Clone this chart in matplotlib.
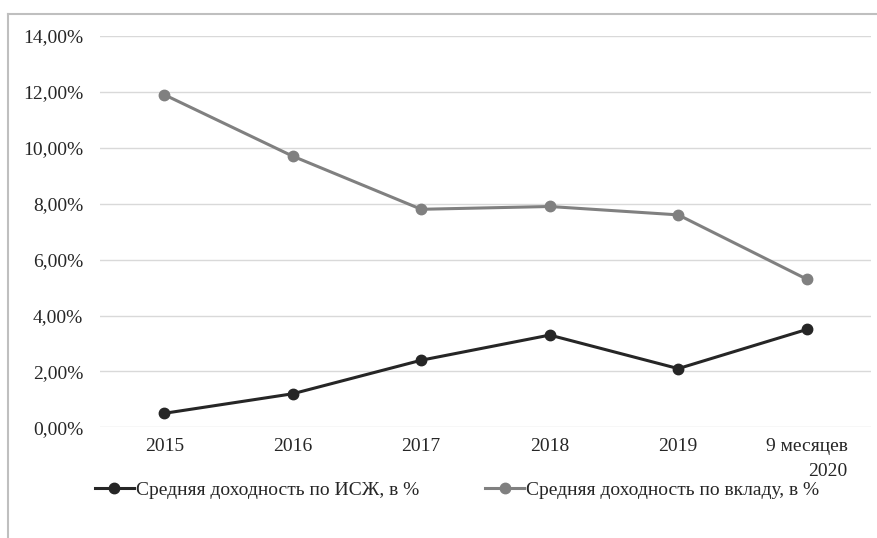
import matplotlib
matplotlib.use('Agg')
from matplotlib import pyplot as plt
from matplotlib.lines import Line2D
from matplotlib.ticker import FuncFormatter, MultipleLocator

plt.rcParams['font.family'] = ['Liberation Serif', 'DejaVu Serif']

categories = ['2015', '2016', '2017', '2018', '2019', '9 месяцев\n2020']
isz_yield = [0.5, 1.2, 2.4, 3.3, 2.1, 3.5]
deposit_yield = [11.9, 9.7, 7.8, 7.9, 7.6, 5.3]
label_isz = 'Средняя доходность по ИСЖ, в %'
label_dep = 'Средняя доходность по вкладу, в %'

fig = plt.figure(figsize=(8.78, 5.38), dpi=100)
ax = fig.add_axes([100 / 878, 1 - 427.3 / 538, 771 / 878, (427.3 - 36) / 538])

x = range(len(categories))
ax.plot(x, isz_yield, color='#262626', lw=2.2, marker='o', ms=7.5, label=label_isz, zorder=3)
ax.plot(x, deposit_yield, color='#808080', lw=2.2, marker='o', ms=7.5, label=label_dep, zorder=3)

ax.set_xlim(-0.5, len(categories) - 0.5)
ax.set_ylim(0, 14)
ax.yaxis.set_major_locator(MultipleLocator(2))
ax.yaxis.set_major_formatter(FuncFormatter(lambda v, p: '{:.2f}%'.format(v).replace('.', ',')))
ax.set_xticks(list(x))
ax.set_xticklabels(categories)
ax.grid(axis='y', color='#d9d9d9', lw=1)
ax.set_axisbelow(True)
for s in ax.spines.values():
    s.set_visible(False)
ax.tick_params(axis='both', length=0, labelsize=14, colors='#262626')
ax.tick_params(axis='y', pad=12)
ax.tick_params(axis='x', pad=8)
for lbl in ax.get_xticklabels():
    lbl.set_verticalalignment('top')
    lbl.set_multialignment('right')
    lbl.set_linespacing(1.55)

fig.legend(loc='center', bbox_to_anchor=(457 / 878, 1 - 490 / 538), ncol=2, frameon=False,
           fontsize=14, handlelength=2.0, handletextpad=0.1, columnspacing=3.4,
           labelcolor='#262626')

# chart border (top and left edges only visible)
fig.add_artist(Line2D([8 / 878, 1], [1 - 14 / 538, 1 - 14 / 538], color='#bfbfbf', lw=1.5))
fig.add_artist(Line2D([8 / 878, 8 / 878], [0, 1 - 14 / 538], color='#bfbfbf', lw=1.5))

fig.savefig('out.png', dpi=100)
